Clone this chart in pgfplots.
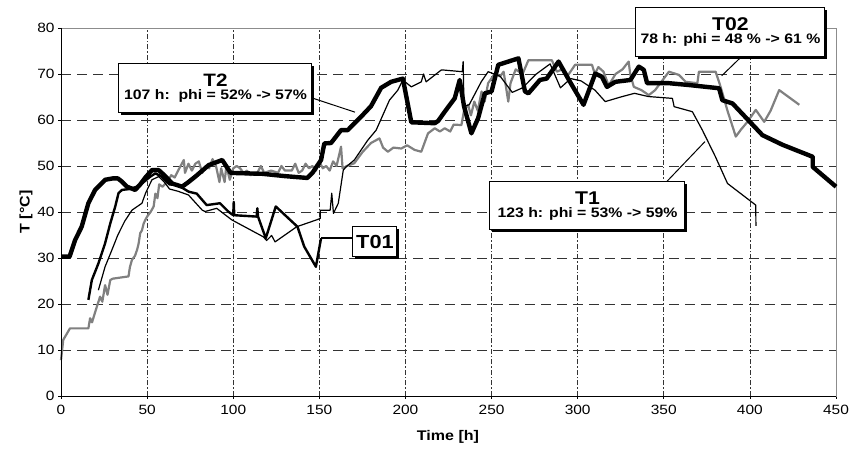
\documentclass[border=0pt]{standalone}
\usepackage{pgfplots}
\pgfplotsset{compat=1.18}
\usepackage{fontspec}
\setmainfont{Liberation Sans}[FakeStretch=1.15]
\usetikzlibrary{shadows}
\begin{document}
\begin{tikzpicture}[x=1bp,y=1bp]
\useasboundingbox (0,0) rectangle (853,449);
\begin{axis}[
  at={(61bp,53bp)}, anchor=south west,
  width=775bp, height=368bp, scale only axis,
  xmin=0, xmax=450, ymin=0, ymax=80,
  xtick={0,50,...,450}, ytick={0,10,...,80},
  tick pos=left, tick align=outside, major tick length=3bp,
  grid=major,
  x grid style={black!80, line width=0.6pt, dash pattern=on 5bp off 2bp on 1.5bp off 2bp},
  y grid style={black!80, line width=0.6pt, dash pattern=on 10bp off 6bp},
  axis line style={draw=black!45, line width=0.5pt},
  tick style={black, line width=0.6pt},
  clip=false,
  /pgf/number format/assume math mode=true,
  tick label style={font=\fontsize{13.5}{15}\selectfont},
  xticklabel style={yshift=-3bp},
]
\addplot[draw=black!50, line width=2.2bp, line join=round] coordinates {
(0,7.8)(1.3,12.2)(5.2,14.7)(15.9,14.7)(16.9,16.9)(18,16)(20.8,19.4)(22.7,21.6)(24,20.5)(25.6,24.1)(27,22)(28.6,25.2)(30,25.5)(39.2,26)(40,28)(41.2,29.6)(42,30)(43,30.5)(44.1,31.7)(45,33)(46,35.4)(47,36)(48,37.5)(49,38.3)(50,39)(52,40)(53.8,41.2)(54.8,44)(56,43)(57,46)(59,45.5)(62.5,47)(64,48)(66,47.5)(68,49)(70.3,50.6)(71.3,51.3)(72,48.5)(74,50.5)(76,49)(78,50.5)(80,51)(82,48.5)(84,50)(86,49.5)(88,51.5)(90,50)(92,46.5)(93,49.5)(95,46.5)(96,50)(98,47)(100,49.5)(102,50)(104,49.5)(106,48.5)(108,49)(110,48)(114,48.5)(116,50)(118,48.5)(122,49)(126,48.5)(128,50)(130,49)(134,49)(136,50.5)(138,48.5)(140,49)(142,50.5)(144,49.5)(146,50)(148,49)(150,51)(152,49.5)(154,50)(156,49)(158,51)(160,50)(162.6,54.2)(163.5,49.5)(166,50)(170.3,50.6)(175,53)(180,55)(184.9,56)(187,54)(189.8,53.1)(193,54)(197.6,53.8)(201,54.5)(205.3,53.5)(209.2,53.1)(213.1,57.1)(217,58.2)(220,57.5)(222.8,58.2)(226,57.5)(228,59)(232.5,58.9)(234,62)(236.4,63.3)(238,61)(240,64)(242,62)(244.2,66.2)(246,64)(248,68)(251.9,70.1)(255,69.5)(257,70.5)(259.7,64)(261,68)(264,71)(268,70)(271.4,73)(285,73)(287.9,70.5)(291,71)(294,69.5)(298.5,72)(308.3,72)(310,70)(312,71.5)(315,70.5)(318,67.5)(322,70)(326,71)(329.6,72.7)(330.5,70)(332.6,67.2)(337,66.5)(341.3,65.4)(345,66.5)(349,68.5)(353,70.5)(358.8,69.8)(362.7,68.3)(369.5,68)(370.4,70.5)(380.1,70.5)(383,67.2)(387,62)(391.8,56.4)(395,58)(398.6,59.6)(403.4,62.2)(408.3,59.6)(412,62)(417,66.5)(428.7,63.3)
};
\addplot[black, line width=1.2bp, line join=round] coordinates {
(21.7,23)(25.6,28.1)(29.5,31.7)(33,35)(37,38)(41.2,40.4)(47,41.9)(49,44)(52.8,47)(56.7,47.7)(60,46.5)(63,45)(68,44.5)(74,43.7)(82,40.4)(83.6,40.1)(90.4,40.8)(99.1,38.3)(117.5,34.6)(119.4,33.8)(122.3,34.9)(124.3,33.5)(136.9,36.8)(148.5,38.3)(150.5,38.6)(150.5,40.4)(156.3,40.4)(157.2,44.1)(158.2,39.7)(161,41.9)(163.9,49.1)(165.5,49.8)(170.3,51.3)(178.1,55.6)(183,57.8)(190.7,64.3)(195.6,66.5)(198.5,68.7)(203.4,67.2)(209.2,68.3)(210.5,70)(212,68.3)(220.9,70.9)(233,70.5)(233.5,72.7)(234,63)(237,63.3)(244,68.3)(248,70.5)(255,69.5)(262,66)(268,67)(276,70)(284,72.2)(290,67)(296,69)(302,68.5)(310,66.5)(316,64)(325,65)(333,65.8)(341,65.1)(355,64.7)(356,62.9)(366.6,61.8)(372.4,57.8)(380,52)(387,46.2)(403.4,41.5)(403.5,37)
};
\addplot[black, line width=2.4bp, line join=round] coordinates {
(15.9,20.9)(17.9,25.2)(21.7,28.8)(25.6,33.2)(28.6,37.5)(31.5,41.2)(33.4,44.1)(35.4,44.8)(40,45)(44,45.5)(47,46.2)(51.9,47.7)(54.8,48.4)(58,47.8)(63,46)(68,45.8)(74.2,44.4)(78.8,44)(84.6,41.5)(92.3,41.9)(97.1,40.1)(100,39.3)(100.3,42.2)(100.6,39.3)(113.6,39)(114,40.8)(114.4,39)(118.9,34.3)(124.7,41.2)(137.3,36.8)(141.2,32.5)(148,28.1)(151,34.3)
};
\addplot[black, line width=4.4bp, line join=round] coordinates {
(0,30.3)(5,30.3)(8.2,33.9)(12,36.8)(15.9,41.9)(19.8,44.8)(25.6,47)(30,47.3)(33,47.3)(35.4,46.6)(38.3,45.5)(43.1,44.8)(46,46)(49,47.5)(52.8,49.1)(56.7,49.1)(60,48)(64.5,46.2)(70.3,45.5)(74,46.5)(78,47.7)(85.8,50.2)(93.6,51.3)(98.5,48.5)(117,48.3)(130,47.8)(143,47.4)(146,48.5)(151,51.3)(152.9,54.9)(156.8,55)(162.6,57.8)(166.5,57.8)(174.2,60.7)(180,63)(185.9,67)(191.7,68.3)(198.5,69)(203.4,59.5)(217,59.3)(219,59.8)(222.8,61.8)(228.6,64.7)(231.5,68.7)(234,63)(238.3,57.1)(242.2,60.4)(246.1,65.8)(250,66.2)(253.9,72)(265.6,73.4)(269.4,66.2)(271.4,65.8)(278.1,68.7)(282,69)(288.9,72.7)(296,68)(303.4,63.3)(310.2,70.1)(314.1,69.4)(317,67.2)(321.9,68.3)(330.6,68.7)(335.5,71.6)(338.4,70.9)(340.3,68)(353,68)(364.6,67.6)(382.1,66.9)(384,64.3)(389.9,63.6)(407.3,56.7)(419,54.6)(436.5,52)(436.5,49.8)(450,45.5)
};
\draw[black, line width=0.9pt] (rel axis cs:0,1) -- (rel axis cs:0,0) -- (rel axis cs:1,0);
% callout lines
\draw[black, line width=1bp] (axis cs:145.7,64.8) -- (axis cs:170.7,61.7);
\draw[black, line width=1bp] (axis cs:395.2,73.8) -- (axis cs:383.6,69.6);
\draw[black, line width=1bp] (axis cs:351.7,46.6) -- (axis cs:373.9,55.3);
\draw[black, line width=2.4bp] (axis cs:151,34.3) -- (axis cs:169.5,34.3);
% boxes
\tikzset{cb/.style={draw=black, fill=white, line width=1bp, align=center, inner sep=2bp,
  drop shadow={shadow xshift=2.5bp, shadow yshift=-2.5bp, fill=black, opacity=1}}}
\node[cb, minimum width=193bp, minimum height=49bp] at (axis cs:89.7,67)
  {{\fontsize{18}{19}\selectfont\bfseries T2}\\[1bp]{\fontsize{13.8}{15}\selectfont\bfseries 107 h:\ \ phi = 52\% -> 57\%}};
\node[cb, minimum width=189bp, minimum height=49bp] at (axis cs:388.7,79.1)
  {{\fontsize{18.5}{19}\selectfont\bfseries T02}\\[1bp]{\fontsize{13.8}{15}\selectfont\bfseries 78 h: phi = 48 \% -> 61 \%}};
\node[cb, minimum width=195bp, minimum height=48bp] at (axis cs:305.7,41.35)
  {{\fontsize{18.5}{19}\selectfont\bfseries T1}\\[1bp]{\fontsize{13.8}{15}\selectfont\bfseries 123 h: phi = 53\% -> 59\%}};
\node[cb, minimum width=44bp, minimum height=30bp, inner sep=1bp] at (axis cs:182.3,33.5)
  {\fontsize{19}{20}\selectfont\bfseries T01};
\end{axis}
\node[font=\fontsize{14}{15}\selectfont\bfseries] at (448,12) {Time [h]};
\node[font=\fontsize{14}{15}\selectfont\bfseries, rotate=90] at (26,237) {T [°C]};
\end{tikzpicture}
\end{document}
